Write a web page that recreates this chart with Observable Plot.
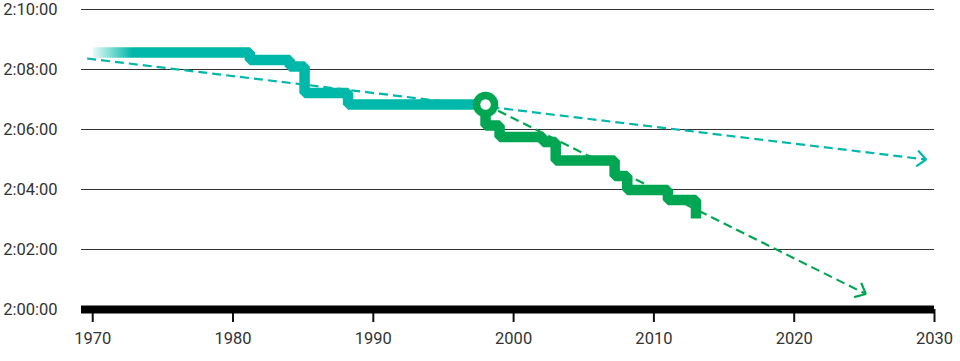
<!DOCTYPE html>
<html>
<head>
<meta charset="utf-8">
<script src="https://cdn.jsdelivr.net/npm/d3@7"></script>
<script src="https://cdn.jsdelivr.net/npm/@observablehq/plot@0.6"></script>
<style>
  html, body { margin: 0; padding: 0; background: #fff; }
</style>
</head>
<body>
<div id="chart"></div>
<script>
// Record progression before the 1998 marker (teal)
const tealYears = [1970, 1981.2, 1984.05, 1985.1, 1988.2, 1998];
const tealTimes = ["2:08:34", "2:08:19", "2:08:06", "2:07:13", "2:06:50", "2:06:50"];

// Record progression from 1998 on (green)
const greenYears = [1998, 1998, 1999, 2002.1, 2003, 2007.2, 2008.1, 2011, 2013];
const greenTimes = ["2:06:50", "2:06:08", "2:05:45", "2:05:35", "2:04:58", "2:04:27", "2:03:59", "2:03:39", "2:03:02"];

// Trend projections (start, end)
const tealTrendYears = [1969.6, 2029.4];
const tealTrendTimes = ["2:08:22", "2:05:00"];
const greenTrendYears = [1998, 2025.1];
const greenTrendTimes = ["2:06:50", "2:00:31"];

// Marker
const markerYear = 1998;
const markerTime = "2:06:50";

// Ticks
const xTicks = [1970, 1980, 1990, 2000, 2010, 2020, 2030];
const yTickLabels = ["2:00:00", "2:02:00", "2:04:00", "2:06:00", "2:08:00", "2:10:00"];

const teal = "#00b8a9";
const green = "#00a651";

const toSec = s => { const [h, m, sec] = s.split(":").map(Number); return h * 3600 + m * 60 + sec; };
const fmt = v => { const h = Math.floor(v / 3600), m = Math.floor((v % 3600) / 60), s = Math.round(v % 60); return `${h}:${String(m).padStart(2, "0")}:${String(s).padStart(2, "0")}`; };

const tealData = tealYears.map((x, i) => ({x, y: toSec(tealTimes[i])}));
const greenData = greenYears.map((x, i) => ({x, y: toSec(greenTimes[i])}));
const trends = [
  {x1: tealTrendYears[0], y1: toSec(tealTrendTimes[0]), x2: tealTrendYears[1], y2: toSec(tealTrendTimes[1]), c: teal},
  {x1: greenTrendYears[0], y1: toSec(greenTrendTimes[0]), x2: greenTrendYears[1], y2: toSec(greenTrendTimes[1]), c: green}
];
const yTicks = yTickLabels.map(toSec);

function chevron(color) {
  const m = d3.create("svg:marker")
    .attr("viewBox", "-14 -12 18 24")
    .attr("markerWidth", 18)
    .attr("markerHeight", 24)
    .attr("markerUnits", "userSpaceOnUse")
    .attr("refX", 0)
    .attr("refY", 0)
    .attr("orient", "auto")
    .attr("overflow", "visible")
    .attr("fill", "none")
    .attr("stroke", color)
    .attr("stroke-width", 2.2)
    .attr("stroke-dasharray", "none")
    .attr("stroke-linejoin", "miter")
    .attr("stroke-linecap", "butt");
  m.append("path").attr("d", "M-9,-8L0,0L-9,8");
  return m.node();
}

const gradientDefs = () => {
  const defs = d3.create("svg:defs");
  const g = defs.append("linearGradient").attr("id", "tealFade")
    .attr("x1", 0).attr("x2", 1).attr("y1", 0).attr("y2", 0);
  g.append("stop").attr("offset", 0).attr("stop-color", teal).attr("stop-opacity", 0.08);
  g.append("stop").attr("offset", 0.1).attr("stop-color", teal).attr("stop-opacity", 1);
  return defs.node();
};

const chart = Plot.plot({
  width: 960,
  height: 361,
  marginLeft: 81,
  marginRight: 26,
  marginTop: 9,
  marginBottom: 52,
  style: {fontFamily: "Roboto", fontSize: "16.5px", color: "#333", background: "#fff"},
  x: {domain: [1969.2, 2030], label: null},
  y: {domain: [toSec("2:00:00"), toSec("2:10:00")], label: null},
  marks: [
    gradientDefs,
    Plot.ruleY(yTicks.slice(1), {stroke: "#333", strokeWidth: 1}),
    Plot.axisY({ticks: yTicks, tickFormat: fmt, tickSize: 0, tickPadding: 24, label: null}),
    Plot.axisX({ticks: xTicks, tickFormat: d => `${d}`, tickSize: 13, tickPadding: 10, stroke: "#111", strokeWidth: 2, label: null}),
    Plot.ruleY([yTicks[0]], {stroke: "#000", strokeWidth: 8}),
    Plot.link(trends, {x1: "x1", y1: "y1", x2: "x2", y2: "y2", stroke: "c", strokeWidth: 2.2, strokeDasharray: "9,5", markerEnd: chevron}),
    Plot.line(tealData, {x: "x", y: "y", curve: "step-after", stroke: "url(#tealFade)", strokeWidth: 10.5, strokeLinejoin: "miter", strokeLinecap: "butt"}),
    Plot.line(greenData, {x: "x", y: "y", curve: "step-after", stroke: green, strokeWidth: 10.5, strokeLinejoin: "miter", strokeLinecap: "butt"}),
    Plot.dot([{x: markerYear, y: toSec(markerTime)}], {x: "x", y: "y", r: 9, stroke: green, strokeWidth: 7.5, fill: "#fff"})
  ]
});
document.getElementById("chart").appendChild(chart);
</script>
</body>
</html>
